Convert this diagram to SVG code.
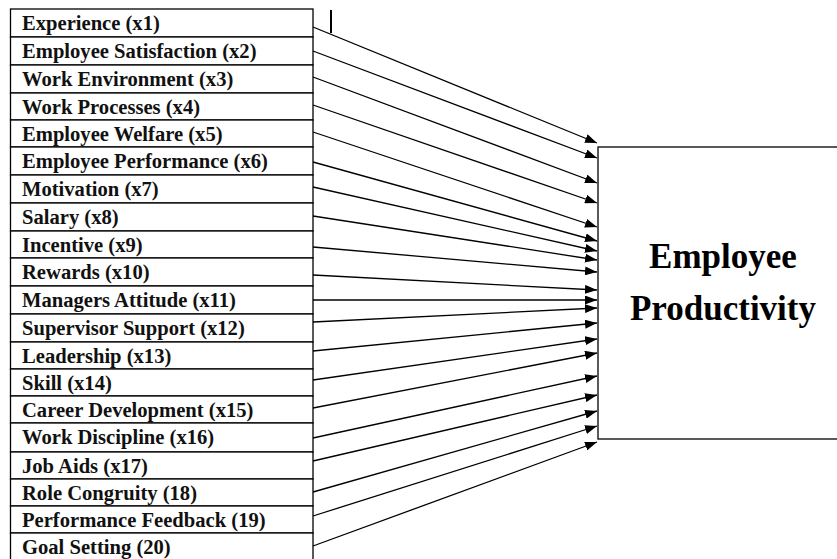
<svg xmlns="http://www.w3.org/2000/svg" width="837" height="559" viewBox="0 0 837 559">
<style>
.box{fill:#fff;stroke:#000;stroke-width:1.3}
.lbl{font-family:"Liberation Serif","Times New Roman",serif;font-weight:bold;font-size:20.6px;fill:#111}
.big{font-family:"Liberation Serif","Times New Roman",serif;font-weight:bold;font-size:35px;fill:#000;text-anchor:middle}
.con line{stroke:#000;stroke-width:1.3;marker-end:url(#ah)}
</style>
<defs>
<marker id="ah" markerUnits="userSpaceOnUse" markerWidth="12" markerHeight="9" refX="12" refY="4.5" orient="auto">
<path d="M0,0 L12,4.5 L0,9 z" fill="#000"/>
</marker>
</defs>
<rect width="837" height="559" fill="#fff"/>
<g id="x1"><rect class="box" x="10.5" y="9" width="302.5" height="28"/><text class="lbl" x="22" y="29.5">Experience (x1)</text></g>
<g id="x2"><rect class="box" x="10.5" y="37" width="302.5" height="28"/><text class="lbl" x="22" y="57.5">Employee Satisfaction (x2)</text></g>
<g id="x3"><rect class="box" x="10.5" y="65" width="302.5" height="28"/><text class="lbl" x="22" y="85.5">Work Environment (x3)</text></g>
<g id="x4"><rect class="box" x="10.5" y="93" width="302.5" height="27"/><text class="lbl" x="22" y="113.5">Work Processes (x4)</text></g>
<g id="x5"><rect class="box" x="10.5" y="120" width="302.5" height="27"/><text class="lbl" x="22" y="140.5">Employee Welfare (x5)</text></g>
<g id="x6"><rect class="box" x="10.5" y="147" width="302.5" height="28"/><text class="lbl" x="22" y="167.5">Employee Performance (x6)</text></g>
<g id="x7"><rect class="box" x="10.5" y="175" width="302.5" height="28"/><text class="lbl" x="22" y="195.5">Motivation (x7)</text></g>
<g id="x8"><rect class="box" x="10.5" y="203" width="302.5" height="28"/><text class="lbl" x="22" y="223.5">Salary (x8)</text></g>
<g id="x9"><rect class="box" x="10.5" y="231" width="302.5" height="27"/><text class="lbl" x="22" y="251.5">Incentive (x9)</text></g>
<g id="x10"><rect class="box" x="10.5" y="258" width="302.5" height="28"/><text class="lbl" x="22" y="278.5">Rewards (x10)</text></g>
<g id="x11"><rect class="box" x="10.5" y="286" width="302.5" height="28"/><text class="lbl" x="22" y="306.5">Managers Attitude (x11)</text></g>
<g id="x12"><rect class="box" x="10.5" y="314" width="302.5" height="28"/><text class="lbl" x="22" y="334.5">Supervisor Support (x12)</text></g>
<g id="x13"><rect class="box" x="10.5" y="342" width="302.5" height="27"/><text class="lbl" x="22" y="362.5">Leadership (x13)</text></g>
<g id="x14"><rect class="box" x="10.5" y="369" width="302.5" height="27"/><text class="lbl" x="22" y="389.5">Skill (x14)</text></g>
<g id="x15"><rect class="box" x="10.5" y="396" width="302.5" height="27"/><text class="lbl" x="22" y="416.5">Career Development (x15)</text></g>
<g id="x16"><rect class="box" x="10.5" y="423" width="302.5" height="29"/><text class="lbl" x="22" y="443.5">Work Discipline (x16)</text></g>
<g id="x17"><rect class="box" x="10.5" y="452" width="302.5" height="27"/><text class="lbl" x="22" y="472.5">Job Aids (x17)</text></g>
<g id="x18"><rect class="box" x="10.5" y="479" width="302.5" height="27"/><text class="lbl" x="22" y="499.5">Role Congruity (18)</text></g>
<g id="x19"><rect class="box" x="10.5" y="506" width="302.5" height="27"/><text class="lbl" x="22" y="526.5">Performance Feedback (19)</text></g>
<g id="x20"><rect class="box" x="10.5" y="533" width="302.5" height="28"/><text class="lbl" x="22" y="553.5">Goal Setting (20)</text></g>
<g id="productivity"><rect class="box" x="598" y="147" width="260" height="292"/><text class="big" x="723" y="268">Employee</text><text class="big" x="723" y="320">Productivity</text></g>
<line x1="331" y1="10" x2="331" y2="33" stroke="#000" stroke-width="2"/>
<g id="connectors" class="con">
<line x1="313" y1="27" x2="597" y2="143"/>
<line x1="313" y1="51" x2="597" y2="158"/>
<line x1="313" y1="77" x2="597" y2="183"/>
<line x1="313" y1="105" x2="597" y2="203"/>
<line x1="313" y1="132" x2="597" y2="227"/>
<line x1="313" y1="162" x2="597" y2="241"/>
<line x1="313" y1="187" x2="597" y2="251"/>
<line x1="313" y1="216" x2="597" y2="260"/>
<line x1="313" y1="247" x2="597" y2="272"/>
<line x1="313" y1="275" x2="597" y2="290"/>
<line x1="313" y1="300" x2="597" y2="300"/>
<line x1="313" y1="322" x2="597" y2="308"/>
<line x1="313" y1="351" x2="597" y2="323"/>
<line x1="313" y1="380" x2="597" y2="339"/>
<line x1="313" y1="408" x2="597" y2="353"/>
<line x1="313" y1="438" x2="597" y2="376"/>
<line x1="313" y1="461" x2="597" y2="395"/>
<line x1="313" y1="492" x2="597" y2="411"/>
<line x1="313" y1="516" x2="597" y2="426"/>
<line x1="313" y1="546" x2="597" y2="442"/>
</g>
</svg>
